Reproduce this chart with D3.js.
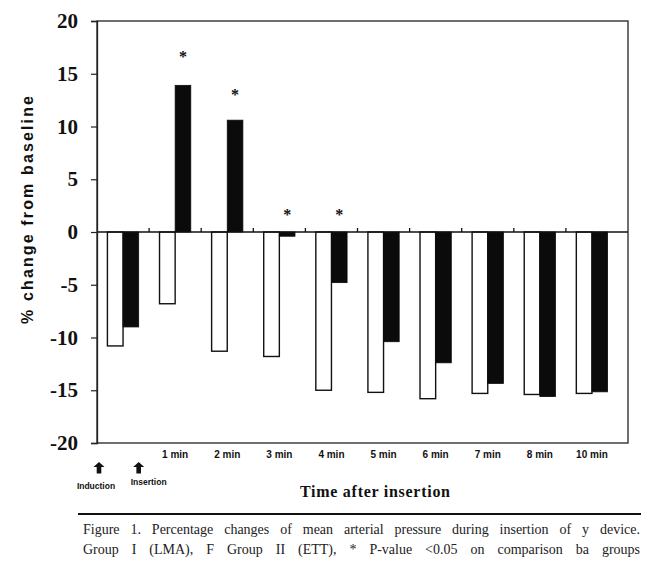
<!DOCTYPE html>
<html>
<head>
<meta charset="utf-8">
<script src="https://cdn.jsdelivr.net/npm/d3@7"></script>
<style>
  html, body { margin: 0; padding: 0; background: #fff; }
  svg { display: block; }
</style>
</head>
<body>
<svg id="chart" width="650" height="570"></svg>
<script>
// ---- data ----
const categories = ["Induction", "1 min", "2 min", "3 min", "4 min", "5 min", "6 min", "7 min", "8 min", "10 min"];
const groupI  = [-10.8, -6.8, -11.3, -11.8, -15.0, -15.2, -15.8, -15.3, -15.4, -15.3]; // LMA (white)
const groupII = [-9.0, 13.9, 10.6, -0.4, -4.8, -10.4, -12.4, -14.35, -15.6, -15.15]; // ETT (black)
const sigMarks = [null, 16.9, 13.3, 1.9, 1.9, null, null, null, null, null];
const yTicks = [20, 15, 10, 5, 0, -5, -10, -15, -20];
const yTitle = "% change from baseline";
const xTitle = "Time after insertion";
const captionLines = [
  "Figure 1. Percentage changes of mean arterial pressure during insertion of y device.",
  "Group I (LMA), F Group II (ETT), * P-value <0.05 on comparison ba groups"
];

// ---- layout ----
const svg = d3.select("#chart");
const plot = { left: 97, top: 21, right: 628, bottom: 443 };

const x = d3.scaleBand().domain(categories).range([plot.left, 618]).paddingInner(0).paddingOuter(0);
const y = d3.scaleLinear().domain([-20, 20]).range([plot.bottom, plot.top]);
const bw = x.bandwidth();
const barW = bw * 0.3;

// frame
svg.append("rect")
  .attr("x", plot.left).attr("y", plot.top)
  .attr("width", plot.right - plot.left).attr("height", plot.bottom - plot.top)
  .attr("fill", "none").attr("stroke", "#222").attr("stroke-width", 1.3);

// bars group I (white)
svg.append("g").selectAll("rect").data(categories).join("rect")
  .attr("x", (d) => x(d) + bw / 2 - barW)
  .attr("width", barW)
  .attr("y", (d, i) => y(Math.max(0, groupI[i])))
  .attr("height", (d, i) => Math.abs(y(groupI[i]) - y(0)))
  .attr("fill", "#fff").attr("stroke", "#111").attr("stroke-width", 1.4);

// bars group II (black)
svg.append("g").selectAll("rect").data(categories).join("rect")
  .attr("x", (d) => x(d) + bw / 2)
  .attr("width", barW)
  .attr("y", (d, i) => y(Math.max(0, groupII[i])))
  .attr("height", (d, i) => Math.abs(y(groupII[i]) - y(0)))
  .attr("fill", "#0b0b0b").attr("stroke", "#0b0b0b").attr("stroke-width", 0.8);

// zero line with category ticks
svg.append("line")
  .attr("x1", plot.left).attr("x2", plot.right)
  .attr("y1", y(0)).attr("y2", y(0))
  .attr("stroke", "#111").attr("stroke-width", 1.5);
svg.append("g").selectAll("line").data(categories.slice(1)).join("line")
  .attr("x1", (d) => x(d)).attr("x2", (d) => x(d))
  .attr("y1", y(0)).attr("y2", y(0) - 4)
  .attr("stroke", "#111").attr("stroke-width", 1.3);

// y axis
const yAxis = d3.axisLeft(y).tickValues(yTicks).tickSize(6).tickPadding(13)
  .tickFormat((d) => (d < 0 ? "-" : "") + Math.abs(d));
const gy = svg.append("g").attr("transform", `translate(${plot.left},0)`).call(yAxis);
gy.select(".domain").attr("stroke", "#222").attr("stroke-width", 1.3);
gy.selectAll(".tick line").attr("stroke", "#222").attr("stroke-width", 1.2);
gy.selectAll(".tick text")
  .attr("font-family", "'Liberation Serif', 'Times New Roman', serif")
  .attr("font-weight", "bold").attr("font-size", 21).attr("fill", "#111");

// y title
svg.append("text")
  .attr("transform", `translate(33, ${(95 + 325) / 2}) rotate(-90)`)
  .attr("text-anchor", "middle")
  .attr("font-family", "'Liberation Sans', Arial, sans-serif")
  .attr("font-weight", "bold").attr("font-size", 16)
  .attr("textLength", 228).attr("lengthAdjust", "spacing")
  .attr("fill", "#111")
  .text(yTitle);

// x axis labels
const xAxis = d3.axisBottom(x).tickSize(0).tickPadding(8).tickFormat((d, i) => i === 0 ? "" : d);
const gx = svg.append("g").attr("transform", `translate(0,${plot.bottom})`).call(xAxis);
gx.select(".domain").remove();
gx.selectAll(".tick text")
  .attr("font-family", "'Liberation Sans', Arial, sans-serif")
  .attr("font-weight", "bold").attr("font-size", 10).attr("fill", "#111");

// Induction / Insertion markers
const markers = [
  { label: "Induction", ax: x(categories[0]) + 2, lx: x(categories[0]) - 1, ly: 489 },
  { label: "Insertion", ax: x(categories[0]) + bw / 2 + barW, lx: x(categories[0]) + bw / 2 + barW + 10, ly: 485 }
];
const mg = svg.append("g");
markers.forEach((m) => {
  mg.append("path")
    .attr("d", `M${m.ax},462 l-5.5,5 h3.2 v6.5 h4.6 v-6.5 h3.2 z`)
    .attr("fill", "#111");
  mg.append("text")
    .attr("x", m.lx).attr("y", m.ly)
    .attr("text-anchor", "middle")
    .attr("font-family", "'Liberation Sans', Arial, sans-serif")
    .attr("font-weight", "bold").attr("font-size", 8.5).attr("fill", "#111")
    .text(m.label);
});

// significance asterisks
svg.append("g").selectAll("text").data(categories.filter((d, i) => sigMarks[i] !== null)).join("text")
  .attr("x", (d) => x(d) + bw / 2 + barW / 2)
  .attr("y", (d) => y(sigMarks[categories.indexOf(d)]) + 8)
  .attr("text-anchor", "middle")
  .attr("font-family", "'Liberation Serif', serif")
  .attr("font-weight", "bold").attr("font-size", 16).attr("fill", "#111")
  .text("*");

// x title
svg.append("text")
  .attr("x", 375).attr("y", 497)
  .attr("text-anchor", "middle")
  .attr("font-family", "'Liberation Serif', 'Times New Roman', serif")
  .attr("font-weight", "bold").attr("font-size", 16).attr("fill", "#111")
  .attr("textLength", 150).attr("lengthAdjust", "spacing")
  .text(xTitle);

// caption rule
svg.append("line")
  .attr("x1", 78).attr("x2", 641).attr("y1", 514).attr("y2", 514)
  .attr("stroke", "#111").attr("stroke-width", 2);

// caption (justified via word spacing)
const capW = 557;
svg.append("g").selectAll("text").data(captionLines).join("text")
  .attr("x", 83).attr("y", (d, i) => 534 + i * 20)
  .attr("font-family", "'Liberation Serif', 'Times New Roman', serif")
  .attr("font-size", 14).attr("fill", "#222")
  .text((d) => d)
  .each(function (d) {
    const len = this.getComputedTextLength();
    const spaces = (d.match(/ /g) || []).length;
    const ws = spaces ? Math.max(0, (capW - len) / spaces) : 0;
    d3.select(this).attr("word-spacing", ws);
  });
</script>
</body>
</html>
